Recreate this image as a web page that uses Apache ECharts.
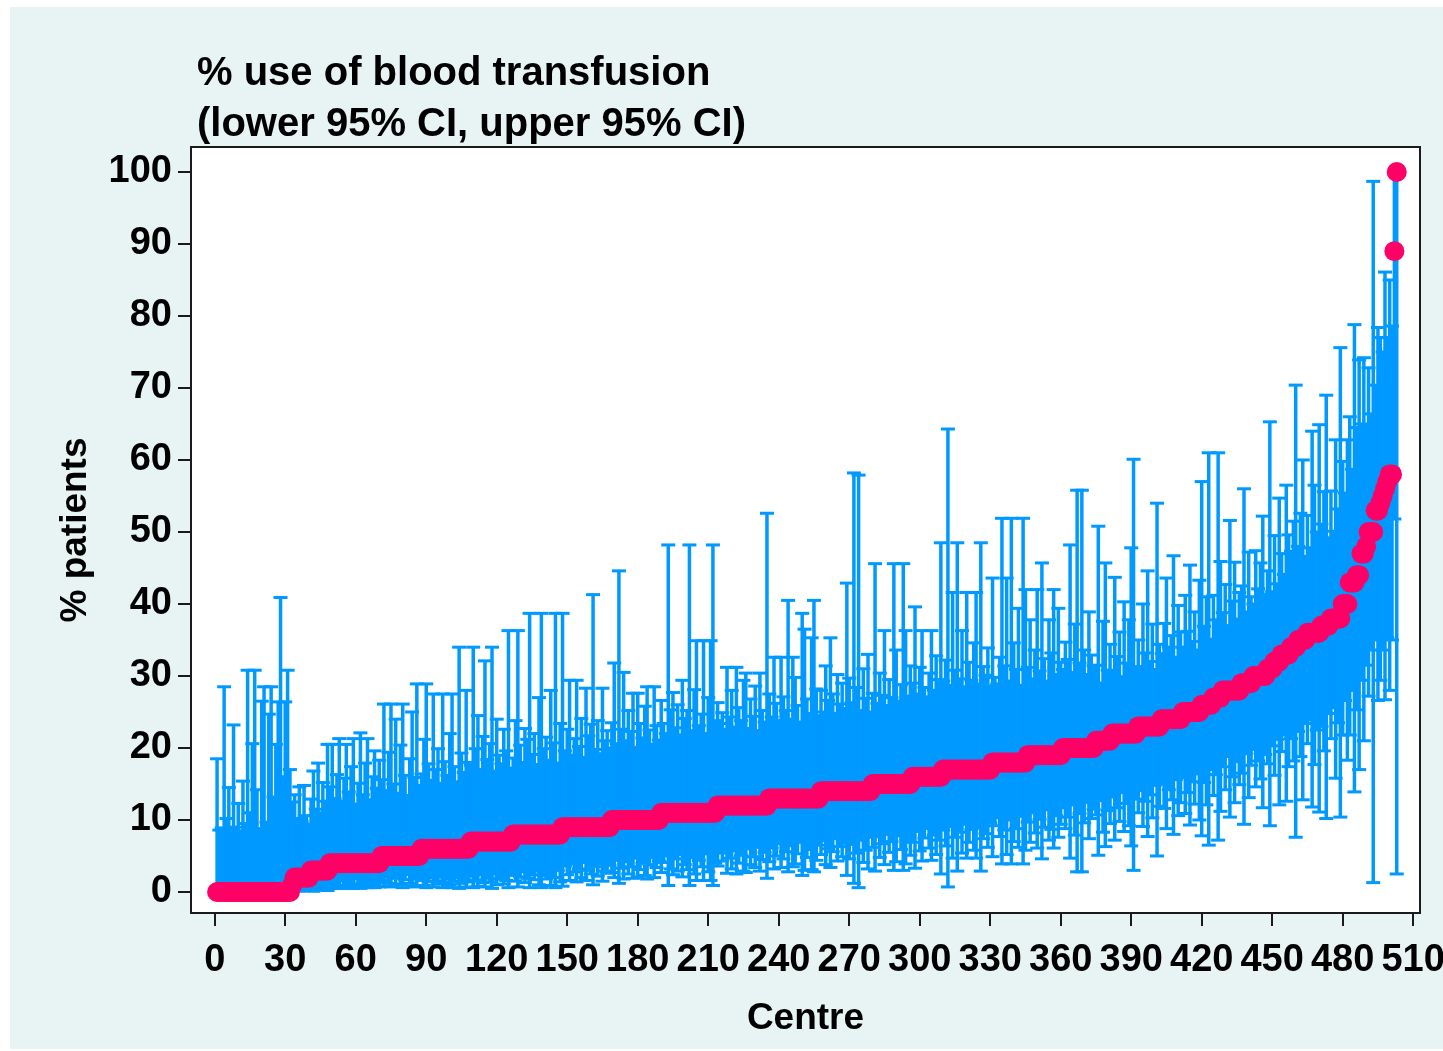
<!DOCTYPE html>
<html>
<head>
<meta charset="utf-8">
<script src="https://cdn.jsdelivr.net/npm/echarts@6/dist/echarts.min.js"></script>
<style>
html, body { margin: 0; padding: 0; background: #fff; overflow: hidden; }
#panel { position: absolute; left: 10px; top: 7px; width: 1433px; height: 1042px; background: #e8f4f4; }
#chart { position: absolute; left: 0; top: 0; width: 1443px; height: 1051px; }
</style>
</head>
<body>
<div id="panel"></div>
<div id="chart"></div>
<script>
// point estimate per centre (sorted), % patients
var estimate = [
  0,0,0,0,0,0,0,0,0,0,0,0,0,0,0,0,0,0,0,0,0,0,0,0,0,0,0,0,0,0,0,0,
  1,
  2,2,2,2,2,2,2,
  3,3,3,3,3,3,3,3,
  4,4,4,4,4,4,4,4,4,4,4,4,4,4,4,4,4,4,4,4,4,4,
  5,5,5,5,5,5,5,5,5,5,5,5,5,5,5,5,5,
  6,6,6,6,6,6,6,6,6,6,6,6,6,6,6,6,6,6,6,6,6,
  7,7,7,7,7,7,7,7,7,7,7,7,7,7,7,7,7,7,
  8,8,8,8,8,8,8,8,8,8,8,8,8,8,8,8,8,8,8,8,8,
  9,9,9,9,9,9,9,9,9,9,9,9,9,9,9,9,9,9,9,9,9,
  10,10,10,10,10,10,10,10,10,10,10,10,10,10,10,10,10,10,10,10,10,
  11,11,11,11,11,11,11,11,11,11,11,11,11,11,11,11,11,11,11,11,11,11,11,11,
  12,12,12,12,12,12,12,12,12,12,12,12,12,12,12,12,12,12,12,12,12,12,
  13,13,13,13,13,13,13,13,13,13,13,13,13,13,13,13,13,13,13,13,13,13,
  14,14,14,14,14,14,14,14,14,14,14,14,14,14,14,14,14,14,14,14,14,14,
  15,15,15,15,15,15,15,15,15,15,15,15,15,15,15,15,15,
  16,16,16,16,16,16,16,16,16,16,16,16,16,
  17,17,17,17,17,17,17,17,17,17,17,17,17,17,17,17,17,17,17,17,17,
  18,18,18,18,18,18,18,18,18,18,18,18,18,18,18,
  19,19,19,19,19,19,19,19,19,19,19,19,19,19,19,
  20,20,20,20,20,20,20,20,20,20,20,20,20,20,
  21,21,21,21,21,21,21,
  22,22,22,22,22,22,22,22,22,22,22,
  23,23,23,23,23,23,23,23,23,23,
  24,24,24,24,24,24,24,24,24,
  25,25,25,25,25,25,25,25,
  26,26,26,26,26,
  27,27,27,27,
  28,28,28,28,28,28,28,28,
  29,29,29,29,29,
  30,30,30,30,30,30,
  31,31,31,
  32,32,32,
  33,33,33,33,
  34,34,34,
  35,35,35,35,
  36,36,36,36,36,36,
  37,37,37,37,
  38,38,38,38,38,
  40,40,40,
  43,43,43,
  44,44,
  47,47,
  48,
  50,50,50,
  53,53,
  54, 55, 56, 57,
  58,58,
  89,
  100
];

// lower 95% CI
var lower = [
  0,0,0,0,0,0,0,0,0,0,0,0,0,0,0,0,0,0,0,0,0,0,0,0,0,0,0,0,0,0,0,0,
  0.0,
  0.2,0.3,0.1,0.4,0.2,0.3,0.5,
  0.4,0.1,0.6,0.4,0.9,0.3,0.7,0.2,
  1.1,0.5,1.4,0.8,0.5,1.6,0.9,0.5,1.3,0.7,0.5,1.8,1.0,0.5,1.2,0.8,0.6,1.5,0.9,0.6,1.3,0.7,
  1.6,0.8,2.1,1.2,0.7,1.9,1.1,2.3,1.0,0.6,1.7,2.4,1.2,0.8,1.8,0.7,2.0,
  1.6,0.9,0.6,1.4,2.0,0.7,1.5,1.1,2.1,0.6,1.3,1.8,1.0,0.6,1.5,2.0,0.5,1.2,1.7,0.7,1.4,
  2.2,0.6,1.6,0.8,2.4,1.3,0.7,1.9,1.4,0.5,2.5,1.0,1.8,2.1,1.1,1.6,0.6,2.3,
  2.6,1.5,0.7,2.1,2.8,1.3,1.9,0.6,2.4,1.7,2.9,1.0,0.6,2.3,1.8,2.7,0.9,2.0,0.6,3.0,1.4,
  0.8,3.6,2.4,1.6,3.9,2.8,1.4,3.2,2.0,4.1,1.6,3.0,2.5,1.0,3.5,2.2,3.9,1.5,2.9,2.6,3.7,
  2.7,2.0,4.4,1.2,3.3,1.8,4.2,2.5,3.5,1.9,4.7,2.1,3.1,4.0,2.3,1.8,3.8,4.8,2.0,3.4,4.3,
  2.7,4.1,5.0,0.9,3.2,2.4,4.6,2.9,5.2,2.1,3.8,3.1,0.9,4.8,2.5,1.6,4.4,3.5,1.6,5.3,2.8,1.6,0.9,4.0,
  3.6,5.4,4.3,5.8,2.6,4.7,3.2,5.7,2.5,4.0,5.1,2.9,2.7,6.0,3.8,4.9,3.4,6.2,2.9,4.5,5.5,1.9,
  4.2,6.1,3.2,5.0,6.7,3.4,4.6,5.6,2.8,6.4,3.5,3.9,5.3,6.9,2.3,3.0,4.8,5.9,3.1,2.8,4.4,6.5,
  5.2,7.1,3.8,6.0,3.4,5.6,7.4,4.3,6.3,4.9,6.8,2.3,4.6,6.6,1.2,5.4,0.6,7.2,4.1,5.8,3.2,7.6,
  6.2,2.9,7.7,4.8,6.7,3.8,8.0,5.5,7.0,3.0,4.2,7.8,5.9,3.0,3.9,7.3,5.1,
  6.9,3.3,8.4,5.7,4.3,7.5,8.8,6.1,4.4,7.9,5.2,7.2,2.5,
  8.6,6.4,0.7,9.1,4.7,7.6,2.9,8.3,5.4,9.4,4.7,6.9,8.7,5.8,4.7,8.9,2.9,7.4,8.1,6.2,9.6,
  4.9,9.2,10.3,7.7,3.9,8.6,5.2,10.0,3.9,7.0,8.8,6.2,10.5,3.9,5.8,
  9.7,6.9,11.0,8.2,6.1,10.1,4.6,9.0,11.4,7.2,8.7,6.1,10.6,7.6,9.4,
  11.7,8.8,10.4,4.7,12.1,7.9,2.8,10.9,2.8,9.6,12.4,7.4,10.2,11.5,
  10.7,5.1,12.7,8.3,6.3,11.3,9.5,
  13.2,7.2,11.7,9.8,13.8,8.4,12.3,9.2,6.4,3.0,12.9,
  11.0,14.1,9.1,12.6,7.7,13.5,10.3,14.8,5.0,11.9,
  15.0,11.6,8.8,14.2,12.8,8.0,15.6,10.6,12.4,
  15.9,10.9,13.8,9.3,15.3,12.2,16.4,10.0,
  7.8,15.2,12.1,6.5,17.0,
  13.4,16.3,7.2,11.2,
  17.4,14.2,18.8,10.4,16.0,12.4,18.1,14.9,
  16.5,9.4,19.2,13.1,17.6,
  19.8,14.6,18.2,15.7,11.7,19.1,
  17.8,9.2,20.3,
  16.2,21.2,12.1,
  19.5,21.8,12.6,17.4,
  21.3,18.2,7.6,
  22.3,18.8,12.8,23.4,
  20.6,23.9,11.8,17.7,22.5,11.1,
  23.0,19.6,10.2,24.8,
  21.3,25.6,15.8,23.5,10.4,
  21.8,26.6,18.3,
  21.8,28.0,13.9,
  25.3,17.0,
  29.4,21.0,
  31.5,
  27.2,33.6,1.3,
  35.0,26.6,
  29.4, 33.6, 26.7, 35.3,
  28.0,35.0,
  51.8,
  2.5
];

// upper 95% CI
var upper = [
  18.5,8.6,8.9,28.5,10.2,14.5,8.7,23.2,9.0,12.3,8.5,15.4,9.5,30.8,11.0,20.6,30.8,14.2,8.8,26.5,28.5,9.7,24.7,28.5,13.2,20.5,26.4,40.9,16.0,26.4,30.8,17.0,
  12.5,
  13.5,10.2,14.6,9.8,14.8,10.6,9.4,
  12.9,16.8,11.5,17.9,11.0,15.2,12.6,20.5,
  14.6,20.5,13.0,16.3,21.3,12.6,15.8,20.5,13.9,17.4,21.3,12.2,15.1,22.1,13.5,17.9,21.3,12.8,16.0,19.6,14.4,18.3,
  15.6,26.1,14.1,19.4,26.1,15.0,24.0,13.7,20.4,26.1,16.2,13.4,18.5,25.0,15.9,28.9,14.8,
  16.4,21.2,28.9,17.8,15.5,27.5,17.0,19.9,15.1,27.5,18.1,16.2,22.0,27.5,17.4,15.3,34.0,19.3,16.6,28.0,18.0,
  17.6,34.0,19.9,24.5,17.0,21.6,32.1,18.4,20.6,34.0,16.8,24.0,19.0,17.8,22.6,19.6,36.3,17.2,
  18.6,23.8,36.3,20.4,18.0,22.7,21.2,38.7,19.1,22.0,17.7,27.0,38.7,19.9,21.5,18.3,28.0,20.7,38.7,17.9,23.4,
  38.7,19.6,22.6,29.4,19.0,21.3,29.4,20.2,24.1,18.7,28.3,21.7,23.3,41.3,19.8,23.8,19.2,28.3,21.0,22.4,20.0,
  23.5,31.8,20.6,44.6,22.6,30.5,21.0,25.2,22.3,27.6,20.1,27.6,23.4,21.4,25.8,28.5,22.5,20.5,28.5,23.1,21.1,
  26.6,23.4,22.0,48.2,25.3,27.7,22.8,26.0,21.8,29.4,24.1,25.2,48.2,22.4,28.1,34.9,23.1,24.7,34.9,22.0,27.0,34.9,48.2,23.8,
  26.3,23.4,24.9,22.6,31.2,24.3,28.0,22.9,31.2,25.6,23.8,29.4,30.4,22.7,26.8,24.4,28.6,22.4,30.4,25.2,23.6,52.6,
  27.5,24.3,32.6,26.2,23.8,32.6,27.1,25.2,40.5,24.0,32.6,29.8,25.9,23.6,38.7,36.5,26.8,24.8,35.3,40.5,28.2,24.5,
  28.0,25.0,31.4,26.6,35.3,27.5,24.8,30.2,26.1,29.0,25.5,42.9,29.7,26.3,58.2,28.4,57.9,25.2,31.0,26.9,33.0,25.0,
  27.6,45.6,26.2,30.4,27.3,36.3,25.9,29.5,27.0,45.6,33.6,26.5,28.8,45.6,36.3,27.2,31.4,
  29.0,39.6,27.5,31.2,36.3,28.4,27.1,30.4,36.3,28.0,32.8,29.5,48.5,
  29.3,32.2,64.3,28.7,41.6,30.8,48.5,29.6,36.3,28.5,41.6,31.9,29.4,34.6,41.6,28.9,48.5,31.3,30.1,33.9,28.6,
  43.6,29.8,28.9,32.6,51.9,31.4,43.6,29.3,51.9,34.6,30.9,39.4,28.7,51.9,42.0,
  31.2,37.8,29.6,33.6,42.0,30.7,45.7,32.4,29.3,37.8,33.2,42.0,30.2,39.4,31.9,
  30.9,34.7,32.3,48.2,30.5,37.2,55.8,31.8,55.8,33.6,30.2,38.9,32.9,31.4,
  31.5,50.8,29.0,37.6,45.7,30.8,34.4,
  30.6,43.7,32.7,36.1,29.9,40.3,31.8,37.8,47.8,60.1,30.9,
  35.0,31.3,40.0,33.2,44.6,32.0,37.2,30.9,54.0,34.4,
  33.1,37.3,43.6,34.0,35.6,46.7,32.6,39.8,36.1,
  34.0,41.2,36.2,45.4,34.8,38.9,33.6,43.3,
  57.0,36.9,41.0,61.0,35.1,
  41.2,37.8,61.0,45.9,
  38.8,42.7,37.0,51.6,40.4,45.8,37.9,41.6,
  42.5,56.0,38.9,47.2,41.0,
  40.0,47.4,42.1,45.7,52.2,41.3,
  44.6,65.3,41.7,
  49.5,42.8,54.7,
  47.0,44.1,56.5,49.6,
  47.3,51.5,70.4,
  48.0,52.6,60.0,46.6,
  52.3,47.8,64.0,56.5,50.0,64.9,
  51.1,55.6,69.0,49.2,
  55.7,50.1,62.8,53.2,75.6,
  59.8,55.4,62.8,
  66.0,58.7,78.8,
  64.5,73.9,
  65.0,74.2,
  64.9,
  72.8,66.4,98.7,
  70.4,78.4,
  77.0, 75.0, 86.1, 77.0,
  85.0,78.6,
  99.7,
  100
];

var xTicks = [0, 30, 60, 90, 120, 150, 180, 210, 240, 270, 300, 330, 360, 390, 420, 450, 480, 510];
var yTicks = [0, 10, 20, 30, 40, 50, 60, 70, 80, 90, 100];

var barData = [];
var dotData = [];
for (var i = 0; i < estimate.length; i++) {
  barData.push([i + 1, lower[i], upper[i]]);
  dotData.push([i + 1, estimate[i]]);
}

var FONT = '"Liberation Sans", Arial, Helvetica, sans-serif';
var BLUE = '#0099ff';
var RED = '#ff0066';

// error bar with caps
function renderBar(params, api) {
  var x = api.value(0);
  var top = api.coord([x, api.value(2)]);
  var bot = api.coord([x, api.value(1)]);
  var half = 7;
  return {
    type: 'group',
    children: [
      { type: 'line', shape: { x1: top[0], y1: top[1], x2: bot[0], y2: bot[1] }, style: { stroke: BLUE, lineWidth: 3.5 } },
      { type: 'line', shape: { x1: top[0] - half, y1: top[1], x2: top[0] + half, y2: top[1] }, style: { stroke: BLUE, lineWidth: 3 } },
      { type: 'line', shape: { x1: bot[0] - half, y1: bot[1], x2: bot[0] + half, y2: bot[1] }, style: { stroke: BLUE, lineWidth: 3 } }
    ]
  };
}

var myChart = echarts.init(document.getElementById('chart'));
var option = {
  animation: false,
  title: {
    text: '% use of blood transfusion\n(lower 95% CI, upper 95% CI)',
    left: 197,
    top: 48,
    padding: 0,
    textStyle: {
      color: '#000',
      fontFamily: FONT,
      fontWeight: 'bold',
      fontSize: 40,
      lineHeight: 51
    }
  },
  grid: {
    left: 191,
    right: 23,
    top: 147,
    bottom: 138,
    outerBoundsMode: 'none',
    containLabel: false,
    show: true,
    backgroundColor: '#fff',
    borderColor: '#1a1a1a',
    borderWidth: 2
  },
  xAxis: {
    type: 'value',
    min: -10.1,
    max: 512.9,
    name: 'Centre',
    nameLocation: 'middle',
    nameGap: 87,
    nameTextStyle: { color: '#000', fontFamily: FONT, fontWeight: 'bold', fontSize: 37 },
    axisLine: { show: false, onZero: false },
    axisTick: { show: true, length: 13, lineStyle: { color: '#1a1a1a', width: 2 }, customValues: xTicks },
    axisLabel: { color: '#000', fontFamily: FONT, fontWeight: 'bold', fontSize: 38, margin: 29, customValues: xTicks },
    splitLine: { show: false }
  },
  yAxis: {
    type: 'value',
    min: -2.92,
    max: 103.47,
    name: '% patients',
    nameLocation: 'middle',
    nameGap: 97,
    nameTextStyle: { color: '#000', fontFamily: FONT, fontWeight: 'bold', fontSize: 37 },
    axisLine: { show: false, onZero: false },
    axisTick: { show: true, length: 13, lineStyle: { color: '#1a1a1a', width: 2 }, customValues: yTicks },
    axisLabel: { color: '#000', fontFamily: FONT, fontWeight: 'bold', fontSize: 38, margin: 19, customValues: yTicks },
    splitLine: { show: false }
  },
  series: [
    {
      type: 'custom',
      name: 'CI',
      renderItem: renderBar,
      encode: { x: 0, y: [1, 2] },
      data: barData,
      z: 2
    },
    {
      type: 'scatter',
      name: 'estimate',
      data: dotData,
      symbolSize: 20,
      itemStyle: { color: RED, opacity: 1 },
      z: 3
    }
  ]
};
myChart.setOption(option);
</script>
</body>
</html>
